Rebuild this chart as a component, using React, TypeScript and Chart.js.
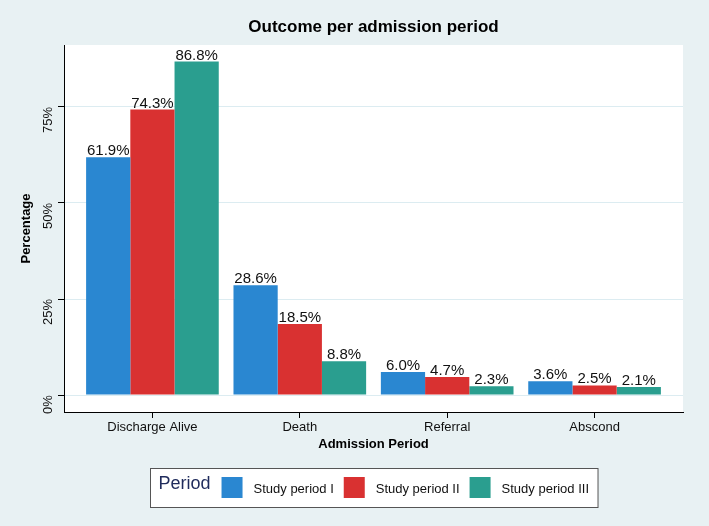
import { useEffect, useRef } from "react";
import { Chart, registerables } from "chart.js";

Chart.register(...registerables);

// Datos
const categories = ["Discharge Alive", "Death", "Referral", "Abscond"];
const periods = ["Study period I", "Study period II", "Study period III"];
const period1 = [61.9, 28.6, 6.0, 3.6];
const period2 = [74.3, 18.5, 4.7, 2.5];
const period3 = [86.8, 8.8, 2.3, 2.1];
const yTicks = [0, 25, 50, 75];
const colors = ["#2a87d1", "#d93131", "#2a9e8f"];

const FONT = "'Liberation Sans', Arial, Helvetica, sans-serif";

const decorPlugin = {
  id: "decor",
  beforeDraw(chart: any) {
    const { ctx, chartArea: a, width, height } = chart;
    ctx.save();
    ctx.fillStyle = "#e8f1f3";
    ctx.fillRect(0, 0, width, height);
    ctx.fillStyle = "#ffffff";
    ctx.fillRect(a.left, a.top, a.right - a.left, a.bottom - a.top);
    ctx.restore();
  },
  afterDatasetsDraw(chart: any) {
    const { ctx } = chart;
    ctx.save();
    ctx.font = `15px ${FONT}`;
    ctx.fillStyle = "#111";
    ctx.textAlign = "center";
    ctx.textBaseline = "alphabetic";
    chart.data.datasets.forEach((ds: any, i: number) => {
      const meta = chart.getDatasetMeta(i);
      meta.data.forEach((el: any, j: number) => {
        const v = ds.data[j].y;
        ctx.fillText(`${v.toFixed(1)}%`, el.x, el.y - 2);
      });
    });
    ctx.restore();
  },
  afterDraw(chart: any) {
    const { ctx, chartArea: a } = chart;
    const cx = (a.left + a.right) / 2;
    ctx.save();

    // titulo
    ctx.font = `bold 17px ${FONT}`;
    ctx.fillStyle = "#000";
    ctx.textAlign = "center";
    ctx.textBaseline = "alphabetic";
    ctx.fillText("Outcome per admission period", cx, 32);

    // leyenda
    const titleFont = `18px ${FONT}`;
    const itemFont = `13px ${FONT}`;
    ctx.font = titleFont;
    const titleW = ctx.measureText("Period").width;
    ctx.font = itemFont;
    const textWs = chart.data.datasets.map((ds: any) => ctx.measureText(ds.label).width);
    const sw = 21;
    let total = 8 + titleW + 11;
    textWs.forEach((w: number, i: number) => {
      total += sw + 11 + w + (i < textWs.length - 1 ? 10 : 9);
    });
    const boxL = Math.round(cx - total / 2) + 0.5;
    const boxT = 468.5;
    const boxH = 39;
    ctx.fillStyle = "#fff";
    ctx.fillRect(boxL, boxT, total, boxH);
    ctx.strokeStyle = "#555";
    ctx.lineWidth = 1;
    ctx.strokeRect(boxL, boxT, total, boxH);

    let x = boxL + 8;
    ctx.font = titleFont;
    ctx.fillStyle = "#1f2b5c";
    ctx.textAlign = "left";
    ctx.fillText("Period", x, 489);
    x += titleW + 11;
    ctx.font = itemFont;
    chart.data.datasets.forEach((ds: any, i: number) => {
      ctx.fillStyle = ds.backgroundColor;
      ctx.fillRect(x, 477, sw, sw);
      x += sw + 11;
      ctx.fillStyle = "#111";
      ctx.fillText(ds.label, x, 493);
      x += textWs[i] + 10;
    });
    ctx.restore();
  },
};

export default function App() {
  const canvasRef = useRef<HTMLCanvasElement>(null);
  const chartRef = useRef<Chart | null>(null);

  useEffect(() => {
    document.body.style.margin = "0";
    if (!canvasRef.current) return;
    if (chartRef.current) chartRef.current.destroy();

    const series = [period1, period2, period3];

    chartRef.current = new Chart(canvasRef.current, {
      type: "bar",
      data: {
        datasets: series.map((vals, i) => ({
          label: periods[i],
          data: vals.map((v, j) => ({ x: j, y: v })),
          backgroundColor: colors[i],
          borderWidth: 0,
          categoryPercentage: 0.9,
          barPercentage: 1.0,
        })),
      },
      options: {
        responsive: false,
        animation: false,
        layout: { padding: { left: 0, right: 26, top: 45, bottom: 0 } },
        plugins: {
          legend: { display: false },
          title: { display: false },
          tooltip: { enabled: false },
        },
        scales: {
          x: {
            type: "linear",
            min: -0.6,
            max: 3.6,
            offset: false,
            afterBuildTicks: (scale: any) => {
              scale.ticks = categories.map((_, i) => ({ value: i }));
            },
            afterFit: (scale: any) => {
              scale.height = 114;
            },
            ticks: {
              callback: (v: any) => categories[v] ?? "",
              color: "#111",
              font: { size: 13, family: FONT },
              padding: 2,
              maxRotation: 0,
              autoSkip: false,
            },
            grid: {
              offset: false,
              drawOnChartArea: false,
              drawTicks: true,
              tickLength: 6,
              tickColor: "#000",
            },
            border: { display: true, color: "#000", width: 1 },
            title: {
              display: true,
              text: "Admission Period",
              color: "#000",
              font: { size: 13, weight: "bold", family: FONT },
              padding: { top: 0, bottom: 74 },
            },
          },
          y: {
            min: -4.4,
            max: 91.1,
            afterBuildTicks: (scale: any) => {
              scale.ticks = yTicks.map((v) => ({ value: v }));
            },
            afterFit: (scale: any) => {
              scale.width = 64;
            },
            ticks: {
              callback: (v: any) => `${v}%`,
              color: "#111",
              font: { size: 13, family: FONT },
              padding: 10,
              minRotation: 90,
              maxRotation: 90,
            },
            grid: {
              color: "#dcecf1",
              tickColor: "#000",
              tickLength: 6,
              lineWidth: 1,
            },
            border: { display: true, color: "#000", width: 1 },
            title: {
              display: true,
              text: "Percentage",
              color: "#000",
              font: { size: 13, weight: "bold", family: FONT },
              padding: { top: 19, bottom: 0 },
            },
          },
        },
      },
      plugins: [decorPlugin],
    });

    return () => {
      if (chartRef.current) {
        chartRef.current.destroy();
        chartRef.current = null;
      }
    };
  }, []);

  return (
    <div style={{ width: 709, height: 526 }}>
      <canvas ref={canvasRef} width={709} height={526} />
    </div>
  );
}
